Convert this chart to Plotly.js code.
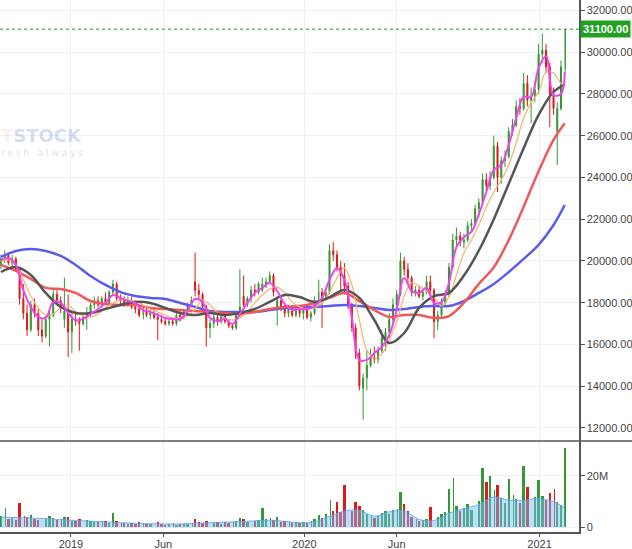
<!DOCTYPE html>
<html><head><meta charset="utf-8">
<script src="https://cdn.plot.ly/plotly-3.0.1.min.js"></script>
<style>html,body{margin:0;padding:0;background:#fff;overflow:hidden}#chart{width:632px;height:549px}</style>
</head><body><div id="chart"></div>
<script>
// Market holidays (exchange closed) used for the trading-day calendar / rangebreaks
const holidays = ['2019-01-01','2019-02-04','2019-02-05','2019-02-06','2019-02-07','2019-02-08','2019-04-15','2019-04-29','2019-04-30','2019-05-01','2019-09-02',
  '2020-01-01','2020-01-23','2020-01-24','2020-01-27','2020-01-28','2020-01-29','2020-04-02','2020-04-30','2020-05-01','2020-09-02',
  '2021-01-01','2021-02-10','2021-02-11','2021-02-12','2021-02-15','2021-02-16'];

// Candles (one per 4 trading days)
const openP = [
19800,20100,20300,19900,20100,19600,18200,17500,16700,17900,
17500,16700,16400,17200,17400,18400,18100,17200,17600,16600,
17200,17100,17000,17300,17500,17900,18100,17900,18200,18000,
18500,18900,18200,18100,18000,18100,17800,17700,17400,17600,
17400,17500,17300,17200,17100,17000,17100,17000,17400,17300,
17600,17900,19000,18600,18400,17800,16800,17000,17300,17100,
17400,17100,16900,16800,17400,18300,17900,18200,18600,18500,
18600,18800,19000,19300,17700,18100,17700,17500,17800,17400,
17700,17500,17700,17300,17500,18100,18500,18300,18500,20500,
20300,19700,19300,18800,17900,16800,15600,13900,14400,15000,
15400,15300,15700,16300,16600,17200,17900,18400,20000,19600,
19200,18500,18600,18300,18500,19000,18600,17100,17400,18000,
18400,19700,21000,21200,20900,21000,21700,21800,22500,22800,
23900,23600,24000,25500,24000,24800,25000,26200,26500,27400,
27300,28500,27700,27900,28200,29900,30100,29300,28000,26200,
27300,29200];
const highP = [
20300,20500,20400,20300,20200,19700,18900,17900,18100,18200,
17700,17200,17400,17600,18600,18600,18300,19200,18400,17600,
17500,17300,17500,17800,18000,18300,18300,18300,18500,18600,
19100,19000,18400,18300,18300,18300,18100,17900,17800,17800,
17700,17800,17500,17400,17300,17200,17300,17500,17600,17700,
18000,18300,20400,18900,18500,17900,17200,17500,17500,17500,
17500,17200,17000,17600,19600,19300,18300,18800,18900,19000,
19200,19200,19500,19400,18300,18200,17900,17900,17900,17800,
17900,17900,17800,17600,18300,19100,18700,18700,20800,20900,
20500,20000,19900,19000,18000,17000,15800,14600,15700,15800,
15900,15900,16700,16800,17500,18200,18600,20400,20200,19900,
19300,18800,18800,18700,19300,19300,18700,17600,18200,18600,
19900,21300,21600,21400,21300,21900,22000,22700,23000,24200,
24200,24300,26000,25700,25000,25300,26400,26800,27700,27800,
29000,28900,28300,28600,30400,30900,30400,29500,28300,27600,
29600,31100];
const lowP = [
19600,19900,19800,19700,19500,17900,17200,16400,16600,17300,
16400,16100,16300,15900,17300,17900,17500,16800,15400,15600,
16900,15700,16900,16700,17300,17700,17800,17800,17900,17900,
18300,18100,17900,17800,17800,17700,17500,17300,17200,17300,
17200,17200,16200,17000,16900,16900,16900,16900,17100,17200,
17400,17800,18300,18200,17600,15900,16300,16800,16900,17000,
17000,16800,16700,16700,17300,17800,17800,18000,18300,18400,
18500,18700,18900,18300,16900,17600,17300,17300,17300,17300,
17300,17200,17200,17100,17400,17900,16800,18100,18400,20000,
19500,18500,18400,17700,16600,15300,13800,12400,13800,14900,
15100,15100,15600,15700,16300,17000,17600,18300,19300,18900,
18300,18300,18200,18100,18400,18400,16300,16700,17300,17900,
18300,19600,20600,20700,20600,20900,21400,21700,22100,22700,
23300,23400,23900,23300,23700,24500,24900,26000,26400,27000,
27200,27400,26600,27600,28000,29500,29000,26400,27000,24600,
27200,29000];
const closeP = [
20100,20300,19900,20100,19600,18200,17500,16700,17900,17500,
16700,16400,17200,17400,18400,18100,17800,17600,16600,17200,
17100,17000,17300,17500,17900,18100,17900,18200,18000,18500,
18900,18200,18100,18000,18100,17800,17700,17400,17600,17400,
17500,17300,17200,17100,17000,17100,17000,17400,17300,17600,
17900,18100,18600,18400,17800,16800,17000,17300,17100,17400,
17100,16900,16800,17400,17800,17900,18200,18600,18500,18900,
18900,19000,19300,18500,18100,17700,17500,17800,17400,17700,
17500,17700,17300,17500,18100,18500,18300,18500,20500,20300,
19700,19300,18800,17900,16800,15600,14000,14400,15000,15400,
15300,15700,16300,16600,17200,17900,18400,20000,19600,19200,
18500,18600,18300,18500,19000,18600,17100,17400,18000,18400,
19700,21000,21200,20900,21000,21700,21800,22500,22800,23900,
23600,24000,25500,24000,24800,25000,26200,26500,27400,27300,
28500,27700,27900,28200,29900,30100,29300,28000,27300,27300,
29300,31100];
const volume = [
4.2e6,7.4e6,3.1e6,3.6e6,2.8e6,9.3e6,4.5e6,3.9e6,4.8e6,3.2e6,
2.9e6,3.8e6,3.4e6,4.4e6,3.6e6,2.7e6,3.1e6,3.9e6,4.1e6,2.6e6,
2.4e6,3.3e6,2.1e6,2.9e6,2.5e6,2.2e6,1.9e6,2.6e6,2.3e6,1.8e6,
5.4e6,2.3e6,1.6e6,1.8e6,1.4e6,1.7e6,1.3e6,1.9e6,1.5e6,1.2e6,
1.4e6,1.1e6,2.0e6,1.2e6,1.0e6,1.3e6,1.5e6,0.9e6,1.2e6,1.4e6,
1.3e6,1.8e6,3.2e6,2.1e6,1.6e6,2.4e6,1.7e6,1.5e6,1.9e6,1.4e6,
2.2e6,1.6e6,1.9e6,2.4e6,3.6e6,3.1e6,2.0e6,2.6e6,2.3e6,2.9e6,
7.4e6,3.2e6,3.5e6,2.8e6,3.9e6,2.1e6,2.6e6,1.9e6,1.7e6,2.0e6,
1.6e6,2.1e6,1.8e6,2.4e6,3.3e6,4.6e6,3.8e6,5.2e6,10.6e6,6.4e6,
9.9e6,5.8e6,16.4e6,7.1e6,6.3e6,9.9e6,8.4e6,6.8e6,5.2e6,4.7e6,
3.8e6,4.4e6,5.6e6,6.2e6,5.1e6,6.9e6,7.2e6,13.5e6,9.0e6,6.3e6,
4.1e6,3.2e6,2.5e6,2.9e6,3.4e6,7.7e6,4.8e6,3.9e6,5.3e6,6.1e6,
15.0e6,19.0e6,8.2e6,6.4e6,7.5e6,9.1e6,6.8e6,8.7e6,10.3e6,22.8e6,
17.7e6,19.9e6,14.5e6,16.4e6,11.2e6,9.6e6,18.6e6,12.4e6,10.8e6,9.3e6,
23.9e6,15.5e6,22.2e6,11.6e6,18.3e6,12.1e6,10.4e6,13.2e6,14.7e6,9.8e6,
8.6e6,30.6e6];

// Fast averages (every 8 trading days)
const maFast = [20050,20140,19810,18610,17800,17320,17270,18040,17990,17510,
17170,17220,17460,17700,17990,18370,18230,18080,17990,17650,
17560,17410,17270,17220,17220,17600,18180,18040,17270,17120,
17220,16980,17460,17990,18470,18710,18950,18560,17940,17650,
17700,17700,17840,18230,19090,19660,19090,17270,15260,15260,
15590,15880,16450,17650,19180,18560,18470,18710,17990,18040,
18950,20670,21150,21390,22250,23300,24360,24600,25560,26850,
27860,27860,29240,29800,27950,28000,29050];
const maMid = [19950,20050,19810,19090,18320,17750,17410,17460,17750,17840,
17600,17360,17320,17460,17750,17990,18130,18130,18080,17890,
17700,17560,17410,17270,17270,17360,17700,18130,17890,17510,
17270,17170,17270,17560,17990,18370,18660,18750,18470,18040,
17800,17700,17750,17990,18510,19180,19660,18850,17170,15740,
15350,15540,16220,17080,18320,18950,18800,18560,18230,17840,
18270,19330,20380,21000,21720,22580,23300,23880,24600,25650,
26850,27570,28100,29050,29000,28500,28400];
// Slow averages (every 16 trading days)
const ma50 = [19470,19710,19330,18470,17800,17510,17510,17700,17890,18040,
17990,17750,17510,17410,17510,17410,17510,17700,18040,18370,
18270,18040,18270,18610,18230,17170,16070,16550,17750,18320,
18470,19300,20500,22000,23700,25400,27000,28100,28450];
const ma100 = [19810,19520,19140,18710,18660,18470,18080,17940,17890,17890,
17750,17700,17650,17600,17560,17510,17460,17560,17700,17800,
17840,17990,18230,18470,18080,17650,17320,17410,17410,17270,
17360,18000,18900,19700,21000,22600,24300,25800,26600];
const ma200 = [20190,20480,20570,20480,20240,19810,19280,18850,18510,18320,
18230,18180,17990,17800,17600,17560,17560,17560,17650,17750,
17800,17800,17840,17890,17840,17750,17650,17700,17800,17840,
17840,18080,18470,18900,19470,20100,20770,21720,22680];
const volMA = [3.9e6,3.8e6,3.6e6,3.4e6,3.0e6,2.6e6,2.4e6,2.1e6,1.8e6,1.6e6,
1.4e6,1.3e6,1.3e6,1.6e6,1.8e6,2.0e6,2.2e6,2.5e6,2.8e6,2.3e6,
1.8e6,2.2e6,4.2e6,6.3e6,6.6e6,4.3e6,6.0e6,6.3e6,3.1e6,2.6e6,
5.5e6,7.2e6,8.8e6,11.8e6,10.5e6,10.5e6,11.2e6,9.9e6,7.6e6];

const lastPrice = 31100;
const xTickVals = ['2019-01-02','2019-06-03','2020-01-02','2020-06-01','2021-01-04'];
const xTickText = ['2019','Jun','2020','Jun','2021'];

// trading calendar
function buildCalendar(start, end) {
  const out = [];
  const d = new Date(start + 'T00:00:00Z');
  const stop = new Date(end + 'T00:00:00Z');
  while (d <= stop) {
    const wd = d.getUTCDay();
    const s = d.toISOString().slice(0, 10);
    if (wd !== 0 && wd !== 6 && holidays.indexOf(s) < 0) out.push(s);
    d.setUTCDate(d.getUTCDate() + 1);
  }
  return out;
}
const days = buildCalendar('2018-09-17', '2021-02-17');
const lastDay = days[days.length - 1];
const candleDates = days.filter((_, i) => i % 4 === 1);
const gridA = days.filter((_, i) => i % 8 === 1); if (gridA[gridA.length-1] !== lastDay) gridA.push(lastDay);
const gridB = days.filter((_, i) => i % 16 === 1); if (gridB[gridB.length-1] !== lastDay) gridB.push(lastDay);

const green = '#359635', red = '#dd1a1a';
const volColors = closeP.map((c, i) => c >= openP[i] ? green : red);

const traces = [
  {type:'candlestick', x:candleDates, open:openP, high:highP, low:lowP, close:closeP,
   xaxis:'x', yaxis:'y', whiskerwidth:0,
   increasing:{line:{color:green, width:1}, fillcolor:green},
   decreasing:{line:{color:red, width:1}, fillcolor:red}, hoverinfo:'skip'},
  {type:'scatter', mode:'lines', x:gridB, y:ma200, line:{color:'#5b5bef', width:2.5, shape:'spline'}, yaxis:'y', hoverinfo:'skip'},
  {type:'scatter', mode:'lines', x:gridB, y:ma100, line:{color:'#f0595a', width:2.5, shape:'spline'}, yaxis:'y', hoverinfo:'skip'},
  {type:'scatter', mode:'lines', x:gridA, y:maMid, line:{color:'#f6b26b', width:1.2, shape:'spline'}, yaxis:'y', hoverinfo:'skip'},
  {type:'scatter', mode:'lines', x:gridB, y:ma50, line:{color:'#555555', width:2.5, shape:'spline'}, yaxis:'y', hoverinfo:'skip'},
  {type:'scatter', mode:'lines', x:gridA, y:maFast, line:{color:'#ee44ee', width:2, shape:'spline'}, yaxis:'y', hoverinfo:'skip'},
  {type:'bar', x:candleDates, y:volume, marker:{color:volColors, line:{width:0}}, width:2.6*86400000, yaxis:'y2', hoverinfo:'skip'},
  {type:'scatter', mode:'lines', x:gridB, y:volMA, fill:'tozeroy', fillcolor:'rgba(120,190,245,0.5)',
   line:{color:'rgba(90,165,240,0.8)', width:1, shape:'spline'}, yaxis:'y2', hoverinfo:'skip'}
];

const axFont = {family:'Liberation Sans, Arial, sans-serif', size:11, color:'#444'};
const splitY = 91/532;
const layout = {
  width:632, height:549, margin:{l:0, r:53, t:0, b:17},
  paper_bgcolor:'#fff', plot_bgcolor:'#fff', showlegend:false, hovermode:false, bargap:0, boxgap:0.6,
  xaxis:{type:'date', anchor:'y2', domain:[0,1], range:['2018-09-17','2021-03-10 07:00'],
    rangebreaks:[{bounds:['sat','mon']},{values:holidays}],
    rangeslider:{visible:false}, tickmode:'array', tickvals:xTickVals, ticktext:xTickText,
    showgrid:true, gridcolor:'#f0f0f0', gridwidth:1, showline:true, linecolor:'#555', linewidth:1.5,
    ticks:'outside', ticklen:3, tickcolor:'#555', tickfont:axFont, ticklabelstandoff:-2, zeroline:false},
  yaxis:{domain:[splitY,1], range:[11377,32498], side:'right', anchor:'x', tickmode:'linear', tick0:12000, dtick:2000,
    tickformat:'.2f', showgrid:true, gridcolor:'#f0f0f0', showline:true, linecolor:'#555', linewidth:1.5,
    ticks:'outside', ticklen:4, tickcolor:'#555', tickfont:axFont, zeroline:false},
  yaxis2:{domain:[0,splitY], range:[-1.82e6,33.45e6], side:'right', anchor:'x', tickmode:'linear', tick0:0, dtick:20e6,
    showgrid:true, gridcolor:'#f0f0f0', showline:true, linecolor:'#555', linewidth:1.5,
    ticks:'outside', ticklen:4, tickcolor:'#555', tickfont:axFont, zeroline:false},
  shapes:[
    {type:'line', xref:'paper', yref:'y', x0:0, x1:1, y0:lastPrice, y1:lastPrice, line:{color:'#229922', width:1, dash:'dot'}},
    {type:'line', xref:'paper', yref:'paper', x0:0, x1:632/579, y0:splitY, y1:splitY, line:{color:'#555', width:1.5}}
  ],
  annotations:[
    {xref:'paper', yref:'y', x:1, y:lastPrice, xanchor:'left', yanchor:'middle', showarrow:false, xshift:1,
     text:'<b>31100.00</b>', bgcolor:'#21a021', borderpad:2, font:{family:'Liberation Sans, Arial, sans-serif', size:11, color:'#fff'}},
    {xref:'paper', yref:'paper', x:0, y:(532-135)/532, xanchor:'left', yanchor:'middle', showarrow:false, borderpad:0,
     text:'<span style="color:rgba(235,120,120,0.35)">T</span>STOCK',
     font:{family:'DejaVu Sans, sans-serif', size:18, weight:700, color:'rgba(140,170,215,0.4)'}},
    {xref:'paper', yref:'paper', x:0, y:(532-153)/532, xanchor:'left', yanchor:'middle', showarrow:false, borderpad:0,
     text:'r e s h   a l w a y s', font:{family:'DejaVu Sans, sans-serif', size:9, color:'rgba(160,160,160,0.35)'}}
  ]
};
Plotly.newPlot('chart', traces, layout, {displayModeBar:false, staticPlot:true});
</script>
</body></html>
